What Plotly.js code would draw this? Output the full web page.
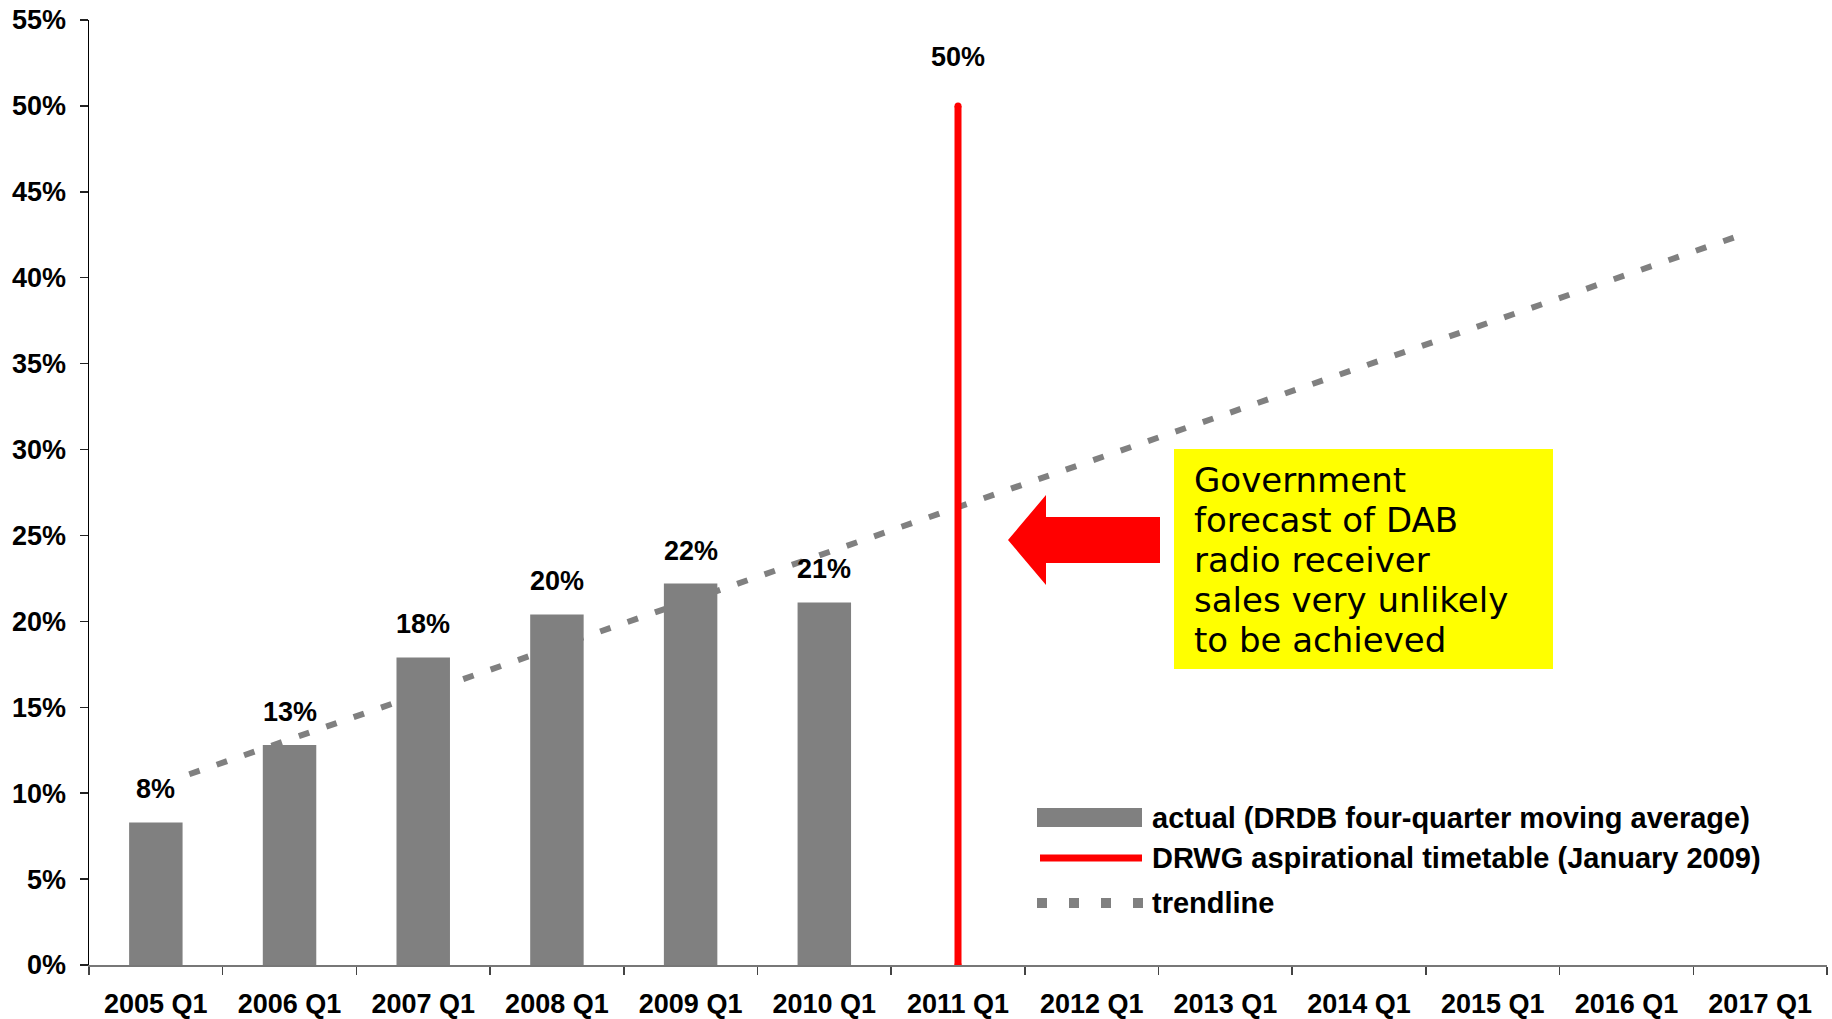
<!DOCTYPE html>
<html>
<head>
<meta charset="utf-8">
<script src="https://cdn.plot.ly/plotly-3.0.1.min.js"></script>
<style>
html,body{margin:0;padding:0;background:#fff;}
#chart{width:1832px;height:1019px;}
</style>
</head>
<body>
<div id="chart"></div>
<script>
// ---- data ----
const categories = ['2005 Q1','2006 Q1','2007 Q1','2008 Q1','2009 Q1','2010 Q1','2011 Q1','2012 Q1','2013 Q1','2014 Q1','2015 Q1','2016 Q1','2017 Q1'];
const actualCategories = ['2005 Q1','2006 Q1','2007 Q1','2008 Q1','2009 Q1','2010 Q1'];
const actualValues = [8.3, 12.8, 17.9, 20.4, 22.2, 21.1];
const targetCategory = '2011 Q1';
const targetValues = [0, 50];
const trendYears = [2005.25, 2016.9];
const trendValues = [11.1, 42.6];
const seriesNames = ['actual (DRDB four-quarter moving average)', 'DRWG aspirational timetable (January 2009)', 'trendline'];
const yTickValues = [0, 5, 10, 15, 20, 25, 30, 35, 40, 45, 50, 55];
const yTickLabels = ['0%', '5%', '10%', '15%', '20%', '25%', '30%', '35%', '40%', '45%', '50%', '55%'];
const noteLines = ['Government', 'forecast of DAB', 'radio receiver', 'sales very unlikely', 'to be achieved'];

// ---- geometry helpers ----
const W = 1832, H = 1019, L = 89, R = 5, T = 20, B = 54;
const px = x => (x - L) / (W - L - R);
const py = y => (H - B - y) / (H - T - B);
const yearOf = c => parseInt(c, 10);

const FONT = 'Liberation Sans, Arial, Helvetica, sans-serif';
const boldFont = (size) => ({family: FONT, size: size, color: '#000', weight: 'bold'});
const GRAY = '#808080';

const traces = [
  {
    type: 'bar', name: seriesNames[0], x: actualCategories, y: actualValues,
    marker: {color: GRAY}, hoverinfo: 'skip', showlegend: false
  },
  {
    type: 'scatter', mode: 'lines', name: seriesNames[2], xaxis: 'x2', yaxis: 'y',
    x: trendYears, y: trendValues,
    line: {color: GRAY, width: 6, dash: '11px,18px'}, hoverinfo: 'skip', showlegend: false
  },
  {
    type: 'scatter', mode: 'lines+markers', name: seriesNames[1], xaxis: 'x2', yaxis: 'y',
    x: [yearOf(targetCategory), yearOf(targetCategory)], y: targetValues,
    line: {color: '#FF0000', width: 7}, marker: {color: '#FF0000', size: 7},
    hoverinfo: 'skip', showlegend: false
  }
];

const annotations = [];
actualCategories.forEach((c, i) => {
  annotations.push({
    x: c, y: actualValues[i], xref: 'x', yref: 'y', text: Math.round(actualValues[i]) + '%',
    showarrow: false, yanchor: 'middle', yshift: 33, font: boldFont(27)
  });
});
annotations.push({
  x: targetCategory, y: targetValues[1], xref: 'x', yref: 'y', text: targetValues[1] + '%',
  showarrow: false, yanchor: 'middle', yshift: 49, font: boldFont(27)
});
// note box text
const noteY = [480, 520, 560, 600, 640];
noteLines.forEach((t, i) => {
  annotations.push({
    x: px(1192), y: py(noteY[i]), xref: 'paper', yref: 'paper', text: t, showarrow: false,
    xanchor: 'left', yanchor: 'middle',
    font: {family: 'DejaVu Sans, Verdana, sans-serif', size: 34, color: '#000'}
  });
});
// legend texts
const legendY = [818, 858, 903];
seriesNames.forEach((n, i) => {
  annotations.push({
    x: px(1150), y: py(legendY[i]), xref: 'paper', yref: 'paper', text: n, showarrow: false,
    xanchor: 'left', yanchor: 'middle', font: boldFont(29)
  });
});

const shapes = [
  // yellow note box
  {type: 'rect', xref: 'paper', yref: 'paper', x0: px(1174), x1: px(1553), y0: py(669), y1: py(449),
   fillcolor: '#FFFF00', line: {width: 0}},
  // red arrow
  {type: 'path', xref: 'paper', yref: 'paper',
   path: 'M' + px(1008) + ',' + py(540) +
         ' L' + px(1046) + ',' + py(495) +
         ' L' + px(1046) + ',' + py(517) +
         ' L' + px(1160) + ',' + py(517) +
         ' L' + px(1160) + ',' + py(563) +
         ' L' + px(1046) + ',' + py(563) +
         ' L' + px(1046) + ',' + py(585) + ' Z',
   fillcolor: '#FF0000', line: {width: 0}},
  // legend symbols
  {type: 'rect', xref: 'paper', yref: 'paper', x0: px(1037), x1: px(1142), y0: py(827), y1: py(808),
   fillcolor: GRAY, line: {width: 0}},
  {type: 'line', xref: 'paper', yref: 'paper', x0: px(1040), x1: px(1142), y0: py(858), y1: py(858),
   line: {color: '#FF0000', width: 7}},
  {type: 'line', xref: 'paper', yref: 'paper', x0: px(1037), x1: px(1147), y0: py(903), y1: py(903),
   line: {color: GRAY, width: 10, dash: '10px,22px'}}
];

const layout = {
  width: W, height: H,
  margin: {l: L, r: R, t: T, b: B, pad: 0},
  paper_bgcolor: '#fff', plot_bgcolor: '#fff',
  bargap: 0.6,
  showlegend: false,
  xaxis: {
    type: 'category', categoryorder: 'array', categoryarray: categories, range: [-0.5, categories.length - 0.5],
    tickson: 'boundaries', ticks: 'outside', ticklen: 8, tickcolor: '#444', tickwidth: 1.5,
    showline: true, linecolor: '#777', linewidth: 2, showgrid: false, zeroline: false,
    tickfont: boldFont(27), ticklabelstandoff: 14, automargin: false, fixedrange: true
  },
  xaxis2: {
    overlaying: 'x', range: [yearOf(categories[0]) - 0.5, yearOf(categories[categories.length - 1]) + 0.5],
    visible: false, fixedrange: true
  },
  yaxis: {
    range: [0, 55], tickmode: 'array', tickvals: yTickValues, ticktext: yTickLabels,
    ticks: 'outside', ticklen: 8, tickcolor: '#222', tickwidth: 1.5,
    showline: true, linecolor: '#000', linewidth: 1.5, showgrid: false, zeroline: false,
    tickfont: boldFont(27), ticklabelstandoff: 8, automargin: false, fixedrange: true
  },
  annotations: annotations,
  shapes: shapes
};

Plotly.newPlot('chart', traces, layout, {staticPlot: true, displayModeBar: false});
</script>
</body>
</html>
